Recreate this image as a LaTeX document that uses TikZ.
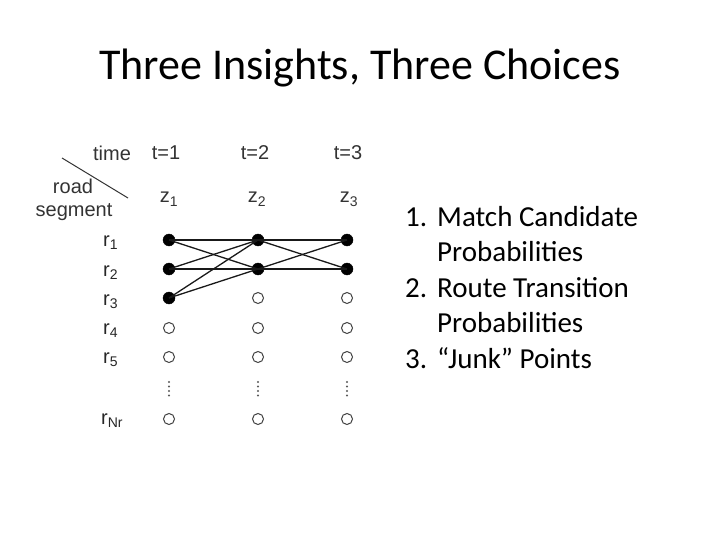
\documentclass[tikz,border=0pt]{standalone}
\usepackage{fontspec}
\setmainfont{Carlito}
\newfontfamily\arialf{Liberation Sans}
\begin{document}
\begin{tikzpicture}[x=1pt,y=-1pt,
  lab/.style={font=\arialf\fontsize{20}{22}\selectfont, text=black!80, inner sep=0pt, anchor=base},
  rlab/.style={font=\arialf\fontsize{20}{22}\selectfont, text=black!85, inner sep=0pt, anchor=base west},
  full/.style={circle, fill=black, draw=black, minimum size=12pt, inner sep=0pt},
  empty/.style={circle, draw=black!75, line width=1pt, minimum size=11pt, inner sep=0pt},
  vdot/.style={circle, fill=black!65, inner sep=0pt, minimum size=2.4pt},
  edge/.style={line width=1.3pt, black!90},
  item/.style={font=\fontsize{29}{32}\selectfont, anchor=base west, inner sep=0pt}]
\useasboundingbox (0,0) rectangle (720,540);
\node[font=\fontsize{44}{48}\selectfont, inner sep=0pt, anchor=base] (title) at (360,80) {Three Insights, Three Choices};
% header
\coordinate (d1) at (62,158);
\coordinate (d2) at (128,198);
\draw[line width=1pt, black!80] (d1) -- (d2);
\node[lab] (time) at (112,161) {time};
\node[lab] (road) at (73,194) {road};
\node[lab] (seg) at (74,217) {segment};
\node[lab] (t1) at (166,160) {t=1};
\node[lab] (t2) at (255,160) {t=2};
\node[lab] (t3) at (348,160) {t=3};
\node[lab] (z1) at (169,203) {z\textsubscript{1}};
\node[lab] (z2) at (257,203) {z\textsubscript{2}};
\node[lab] (z3) at (349,203) {z\textsubscript{3}};
% row labels
\node[rlab] (r1) at (103,246) {r\textsubscript{1}};
\node[rlab] (r2) at (103,276) {r\textsubscript{2}};
\node[rlab] (r3) at (103,305) {r\textsubscript{3}};
\node[rlab] (r4) at (103,334) {r\textsubscript{4}};
\node[rlab] (r5) at (103,363) {r\textsubscript{5}};
\node[rlab] (rN) at (101,424) {r\textsubscript{Nr}};
% nodes
\foreach \c/\x in {a/169,b/258,c/347} {
  \node[empty] (\c4) at (\x,328) {};
  \node[empty] (\c5) at (\x,357) {};
  \node[empty] (\c7) at (\x,419) {};
  \foreach \k/\y in {1/382,2/386.5,3/391,4/395.5}
    \node[vdot] (\c6\k) at (\x,\y) {};
}
\node[full] (a1) at (169,240) {};
\node[full] (a2) at (169,269) {};
\node[full] (a3) at (169,298) {};
\node[full] (b1) at (258,240) {};
\node[full] (b2) at (258,269) {};
\node[empty] (b3) at (258,298) {};
\node[full] (c1) at (347,240) {};
\node[full] (c2) at (347,269) {};
\node[empty] (c3) at (347,298) {};
% edges
\foreach \s in {a1,a2,a3} {
  \draw[edge] (\s.center) -- (b1.center);
  \draw[edge] (\s.center) -- (b2.center);
}
\foreach \s in {b1,b2} {
  \draw[edge] (\s.center) -- (c1.center);
  \draw[edge] (\s.center) -- (c2.center);
}
% list
\node[item] (n1) at (405,226) {1.};
\node[item] (l1) at (437,226) {Match Candidate};
\node[item] (l1b) at (437,261) {Probabilities};
\node[item] (n2) at (405,297) {2.};
\node[item] (l2) at (437,297) {Route Transition};
\node[item] (l2b) at (437,332) {Probabilities};
\node[item] (n3) at (405,368) {3.};
\node[item] (l3) at (437,368) {“Junk” Points};
\end{tikzpicture}
\end{document}
